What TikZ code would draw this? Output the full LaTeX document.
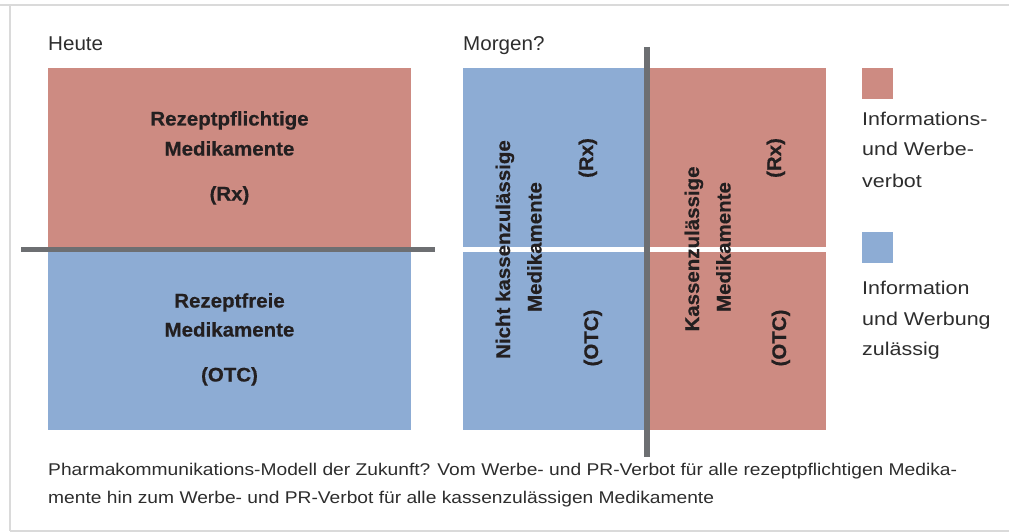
\documentclass[tikz,border=0pt]{standalone}
\usepackage{fontspec}
\setmainfont{Liberation Sans}
\newfontfamily\lblfont[FakeStretch=1.04,FakeBold=0.5]{Liberation Sans}
\newfontfamily\legfont[FakeStretch=1.16]{Liberation Sans}
\newfontfamily\capfont[FakeStretch=1.13]{Liberation Sans}
\newfontfamily\headfont[FakeStretch=1.03]{Liberation Sans}
\definecolor{rxred}{RGB}{205,139,130}
\definecolor{otcblue}{RGB}{141,172,212}
\definecolor{bargray}{RGB}{109,111,114}
\definecolor{framegray}{RGB}{218,218,218}
\definecolor{txtdark}{RGB}{35,31,32}
\definecolor{txtreg}{RGB}{45,45,45}
\tikzset{
  panel/.style={draw=none, inner sep=0pt, outer sep=0pt, anchor=north west},
  boldlbl/.style={font=\lblfont\bfseries\fontsize{19.7}{24}\selectfont, text=txtdark, inner sep=0pt, anchor=base},
  vlbl/.style={boldlbl, rotate=90},
  reglbl/.style={font=\legfont\fontsize{18.5}{24}\selectfont, text=txtreg, inner sep=0pt, anchor=base west},
  headlbl/.style={font=\headfont\fontsize{20}{24}\selectfont, text=txtreg, inner sep=0pt, anchor=base west},
  caplbl/.style={font=\capfont\fontsize{17}{24}\selectfont, text=txtreg, inner sep=0pt, anchor=base west},
  bar/.style={draw=bargray, line width=5.5pt},
  frameline/.style={draw=framegray, line width=2pt}
}
\begin{document}
\begin{tikzpicture}[x=1pt,y=-1pt]
\useasboundingbox (0,0) rectangle (1009,532);
% frame
\draw[frameline] (0,5.5) -- (1009,5.5);
\draw[frameline] (10,5.5) -- (10,530.5);
\draw[frameline] (10,530.5) -- (1009,530.5);
% headings
\node[headlbl] (heute) at (48,50.5) {Heute};
\node[headlbl] (morgen) at (463,50.5) {Morgen?};
% left panel
\node[panel, fill=rxred, minimum width=363pt, minimum height=181pt] (lrx) at (48,68) {};
\node[panel, fill=otcblue, minimum width=363pt, minimum height=180pt] (lotc) at (48,250) {};
\coordinate (hbl) at (21,249.7);
\coordinate (hbr) at (435,249.7);
\draw[bar] (hbl) -- (hbr);
\node[boldlbl] (l1) at (229.5,125.5) {Rezeptpflichtige};
\node[boldlbl] (l2) at (229.5,155.5) {Medikamente};
\node[boldlbl] (l3) at (229.5,200.5) {(Rx)};
\node[boldlbl] (l4) at (229.5,307.5) {Rezeptfreie};
\node[boldlbl] (l5) at (229.5,336.5) {Medikamente};
\node[boldlbl] (l6) at (229.5,381.5) {(OTC)};
% right panel
\node[panel, fill=otcblue, minimum width=182pt, minimum height=178.7pt] (nrx) at (463,68) {};
\node[panel, fill=otcblue, minimum width=182pt, minimum height=177.7pt] (notc) at (463,252.3) {};
\node[panel, fill=rxred, minimum width=176pt, minimum height=178.7pt] (krx) at (650,68) {};
\node[panel, fill=rxred, minimum width=176pt, minimum height=177.7pt] (kotc) at (650,252.3) {};
\coordinate (vbt) at (647,47);
\coordinate (vbb) at (647,456.5);
\draw[bar, line width=6pt] (vbt) -- (vbb);
\node[vlbl] (r1) at (510,249.5) {Nicht kassenzulässige};
\node[vlbl] (r2) at (541.5,247) {Medikamente};
\node[vlbl] (r3) at (593,158) {(Rx)};
\node[vlbl] (r4) at (598,338) {(OTC)};
\node[vlbl] (r5) at (699,249) {Kassenzulässige};
\node[vlbl] (r6) at (730.5,247) {Medikamente};
\node[vlbl] (r7) at (781,158) {(Rx)};
\node[vlbl] (r8) at (786,338) {(OTC)};
% legend
\node[panel, fill=rxred, minimum width=31pt, minimum height=31pt] (legr) at (862,68) {};
\node[reglbl] (g1) at (862,125) {Informations-};
\node[reglbl] (g2) at (862,156) {und Werbe-};
\node[reglbl] (g3) at (862,187) {verbot};
\node[panel, fill=otcblue, minimum width=31pt, minimum height=31pt] (legb) at (862,232) {};
\node[reglbl] (g4) at (862,294) {Information};
\node[reglbl] (g5) at (862,325) {und Werbung};
\node[reglbl] (g6) at (862,355) {zulässig};
% caption
\node[caplbl] (c1) at (48,475) {Pharmakommunikations-Modell der Zukunft? Vom Werbe- und PR-Verbot für alle rezeptpflichtigen Medika-};
\node[caplbl] (c2) at (48,503) {mente hin zum Werbe- und PR-Verbot für alle kassenzulässigen Medikamente};
\end{tikzpicture}
\end{document}
